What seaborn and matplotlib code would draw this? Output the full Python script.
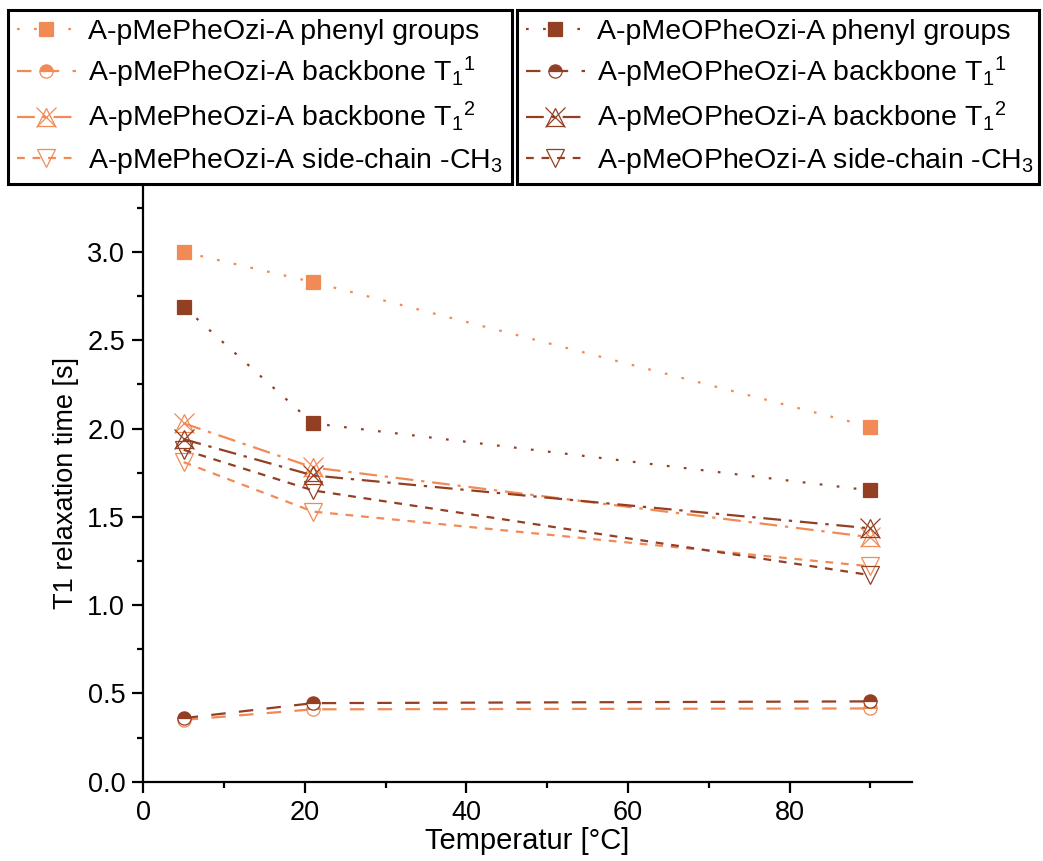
import matplotlib
matplotlib.use("Agg")
import matplotlib.pyplot as plt
import seaborn as sns
import numpy as np
import pandas as pd
from matplotlib.lines import Line2D
from matplotlib.legend_handler import HandlerTuple
from matplotlib.ticker import MultipleLocator

# ---------------- data ----------------
temperature = [5, 21, 90]

mephe_phenyl = [3.00, 2.83, 2.01]
mephe_backbone1 = [0.35, 0.41, 0.415]
mephe_backbone2 = [2.03, 1.78, 1.385]
mephe_sidechain = [1.81, 1.53, 1.22]

meophe_phenyl = [2.69, 2.03, 1.65]
meophe_backbone1 = [0.36, 0.445, 0.455]
meophe_backbone2 = [1.94, 1.735, 1.435]
meophe_sidechain = [1.88, 1.65, 1.17]

labels_mephe = [
    "A-pMePheOzi-A phenyl groups",
    "A-pMePheOzi-A backbone T$_\\mathregular{1}$$^\\mathregular{1}$",
    "A-pMePheOzi-A backbone T$_\\mathregular{1}$$^\\mathregular{2}$",
    "A-pMePheOzi-A side-chain -CH$_\\mathregular{3}$",
]
labels_meophe = [
    "A-pMeOPheOzi-A phenyl groups",
    "A-pMeOPheOzi-A backbone T$_\\mathregular{1}$$^\\mathregular{1}$",
    "A-pMeOPheOzi-A backbone T$_\\mathregular{1}$$^\\mathregular{2}$",
    "A-pMeOPheOzi-A side-chain -CH$_\\mathregular{3}$",
]

# ---------------- style ----------------
sns.set_theme(style="ticks")
plt.rcParams["font.family"] = ["Liberation Sans", "DejaVu Sans"]
plt.rcParams["mathtext.fontset"] = "custom"
plt.rcParams["mathtext.rm"] = "Liberation Sans"
plt.rcParams["mathtext.it"] = "Liberation Sans:italic"
plt.rcParams["mathtext.bf"] = "Liberation Sans:bold"

LIGHT = "#F28A55"
DARK = "#923F24"
LW = 1.6

styles = {
    "phenyl": dict(linestyle=(0, (1.2, 6.5)), marker="s", markersize=9.5),
    "bb1": dict(linestyle=(0, (6.5, 6)), marker="o", markersize=9.5,
                fillstyle="top", markerfacecoloralt="white"),
    "bb2": dict(linestyle=(0, (8, 3.5, 1.5, 3.5)), marker="^", markersize=12.5,
                markerfacecolor="none"),
    "side": dict(linestyle=(0, (3.5, 3.5)), marker="v", markersize=12.5,
                 markerfacecolor="none"),
}

fig = plt.figure(figsize=(10.43, 8.61), dpi=100)
ax = fig.add_axes([143.3 / 1043, 79.3 / 861, (911.7 - 143.3) / 1043, (781.7 - 185) / 861])


def draw(vals, key, color):
    kw = dict(styles[key])
    if kw.get("markerfacecolor", None) != "none":
        kw["markerfacecolor"] = color
    sns.lineplot(x=temperature, y=vals, ax=ax, color=color, linewidth=LW,
                 markeredgecolor=color, markeredgewidth=0.9, **kw)
    if key == "bb2":
        sns.lineplot(x=temperature, y=vals, ax=ax, color=color, linestyle="none",
                     marker="x", markersize=14, markeredgecolor=color,
                     markeredgewidth=0.9)


for color, series in [
    (LIGHT, [mephe_phenyl, mephe_backbone1, mephe_backbone2, mephe_sidechain]),
    (DARK, [meophe_phenyl, meophe_backbone1, meophe_backbone2, meophe_sidechain]),
]:
    for vals, key in zip(series, ["phenyl", "bb1", "bb2", "side"]):
        draw(vals, key, color)

ax.set_xlim(0, 95.1)
ax.set_ylim(0, 3.38)
ax.xaxis.set_major_locator(MultipleLocator(20))
ax.xaxis.set_minor_locator(MultipleLocator(10))
ax.yaxis.set_major_locator(MultipleLocator(0.5))
ax.yaxis.set_minor_locator(MultipleLocator(0.25))
ax.yaxis.set_major_formatter(matplotlib.ticker.FormatStrFormatter("%.1f"))

for s in ["top", "right"]:
    ax.spines[s].set_visible(False)
for s in ["left", "bottom"]:
    ax.spines[s].set_linewidth(1.6)
    ax.spines[s].set_color("black")

ax.tick_params(which="major", direction="out", length=8, width=1.6,
               labelsize=19.5, colors="black", pad=5)
ax.tick_params(which="minor", direction="out", length=4, width=1.6, colors="black")

ax.set_xlabel("Temperatur [°C]", fontsize=21, labelpad=1, color="black")
ax.set_ylabel("T1 relaxation time [s]", fontsize=19.5, labelpad=6, color="black")


def handles_for(color):
    hs = []
    for key in ["phenyl", "bb1", "bb2", "side"]:
        kw = dict(styles[key])
        if kw.get("markerfacecolor", None) != "none":
            kw["markerfacecolor"] = color
        h = Line2D([], [], color=color, linewidth=LW, markeredgecolor=color,
                   markeredgewidth=0.9, **kw)
        if key == "bb2":
            hx = Line2D([], [], color=color, linestyle="none", marker="x",
                        markersize=14, markeredgecolor=color, markeredgewidth=0.9)
            h = (h, hx)
        hs.append(h)
    return hs


leg_kw = dict(loc="upper left", mode="expand", borderaxespad=0, fontsize=20.5,
              frameon=True, fancybox=False, framealpha=1, edgecolor="black",
              handlelength=2.1, handletextpad=0.4, labelspacing=0.36,
              borderpad=0.3, handler_map={tuple: HandlerTuple(ndivide=1)})

leg1 = fig.legend(handles_for(LIGHT), labels_mephe,
                  bbox_to_anchor=(8 / 1043, 1 - 10 / 861, 504 / 1043, 0), **leg_kw)
leg2 = fig.legend(handles_for(DARK), labels_meophe,
                  bbox_to_anchor=(517 / 1043, 1 - 10 / 861, 522 / 1043, 0), **leg_kw)
for lg in (leg1, leg2):
    lg.get_frame().set_linewidth(2.2)
    for t in lg.get_texts():
        t.set_color("black")

fig.savefig("out.png", dpi=100)
